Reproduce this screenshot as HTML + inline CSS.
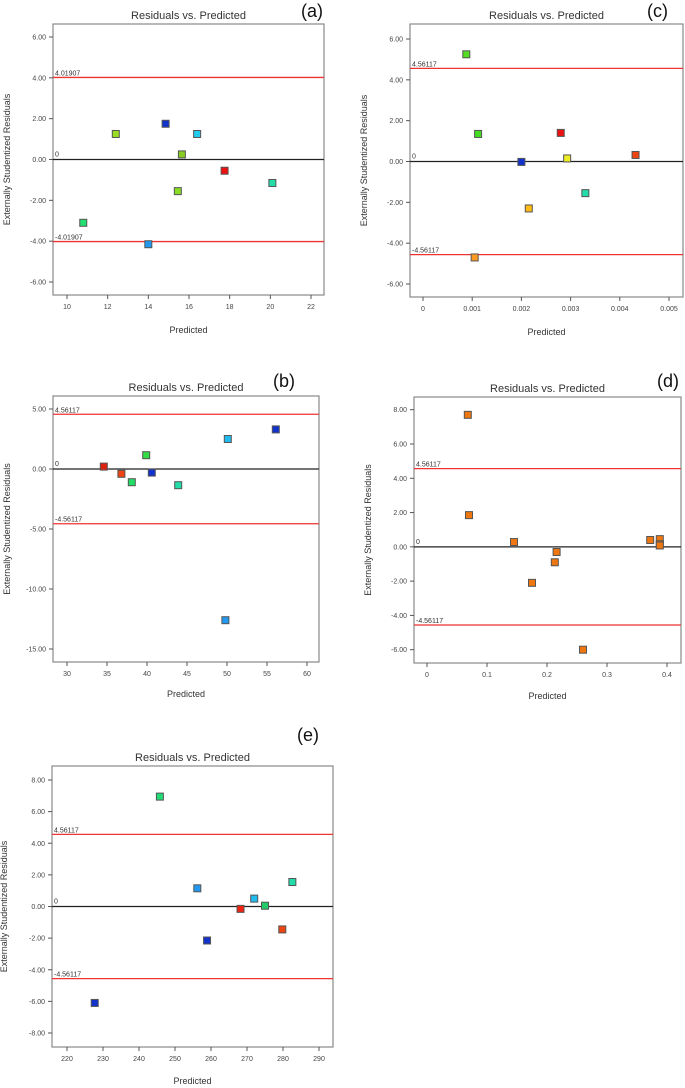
<!DOCTYPE html>
<html><head><meta charset="utf-8"><style>
body{margin:0;background:#fff;width:685px;height:1088px;overflow:hidden;font-family:"Liberation Sans",sans-serif}
svg{position:absolute;left:0;top:0}
</style></head><body>
<svg id="s" width="685" height="1088"></svg>
<script>
// Panel (a)
const aX=[10.8,12.4,14.0,14.85,15.45,15.65,16.4,17.75,20.1];
const aY=[-3.1,1.25,-4.15,1.75,-1.55,0.25,1.25,-0.55,-1.15];
const aC=["#22e070","#99dd22","#2299ee","#1133cc","#88dd22","#88cc22","#22ccee","#ee1111","#22ddaa"];
const aXT=[10,12,14,16,18,20,22];
const aYT=[6,4,2,0,-2,-4,-6];
// Panel (c)
const cX=[0.00088,0.00112,0.00105,0.002,0.00215,0.0028,0.00293,0.0033,0.00432];
const cY=[5.25,1.35,-4.7,-0.02,-2.3,1.4,0.15,-1.55,0.32];
const cC=["#55dd22","#44dd22","#ff9922","#1133cc","#ffbb11","#ee1111","#eeee22","#22ddaa","#ee4411"];
const cXT=[0,0.001,0.002,0.003,0.004,0.005];
const cYT=[6,4,2,0,-2,-4,-6];
// Panel (b)
const bX=[34.6,36.8,38.1,39.9,40.6,43.9,50.1,49.8,56.1];
const bY=[0.2,-0.4,-1.1,1.15,-0.3,-1.35,2.5,-12.6,3.3];
const bC=["#dd2211","#ee4411","#22dd66","#33dd44","#1133cc","#22ddaa","#22bbee","#2299ee","#1133cc"];
const bXT=[30,35,40,45,50,55,60];
const bYT=[5,0,-5,-10,-15];
// Panel (d)
const dX=[0.068,0.07,0.145,0.175,0.213,0.216,0.26,0.372,0.388,0.388,0.388];
const dY=[7.7,1.85,0.28,-2.1,-0.9,-0.3,-6.0,0.4,0.45,0.15,0.08];
const dXT=[0,0.1,0.2,0.3,0.4];
const dYT=[8,6,4,2,0,-2,-4,-6];
// Panel (e)
const eX=[227.7,245.8,256.2,258.9,268.2,272.0,275.0,279.8,282.6];
const eY=[-6.1,6.95,1.15,-2.15,-0.15,0.5,0.05,-1.45,1.55];
const eC=["#1133cc","#22dd77","#2299ee","#1133cc","#ee2211","#22bbee","#22cc66","#ee4411","#22ddaa"];
const eXT=[220,230,240,250,260,270,280,290];
const eYT=[8,6,4,2,0,-2,-4,-6,-8];

const S=document.getElementById('s');const NS="http://www.w3.org/2000/svg";
function el(t,a,p){const e=document.createElementNS(NS,t);for(const k in a)e.setAttribute(k,a[k]);(p||S).appendChild(e);return e;}
function panel(o){
 const g=el('g',{});
 
 
 const sx=v=>o.x0px+(v-o.x0)*(o.x1px-o.x0px)/(o.x1-o.x0);
 const sy=v=>o.y0px+(v-o.y0)*(o.y1px-o.y0px)/(o.y1-o.y0);
 const t=el('text',{x:(o.L+o.R)/2,y:o.T-5,'text-anchor':'middle','font-size':11,fill:'#333'},g);t.textContent='Residuals vs. Predicted';
 
 const lb=el('text',{x:o.lx,y:o.ly,'font-size':18,fill:'#111'},g);lb.textContent='('+o.id+')';
 
 const box=el('rect',{x:o.L,y:o.T,width:o.R-o.L,height:o.B-o.T,fill:'#fff',stroke:'#888','stroke-width':1.2},g);
 
 o.yt.forEach(v=>{const y=sy(v);el('line',{x1:o.L-4,x2:o.L,y1:y,y2:y,stroke:'#555'},g);
  const tx=el('text',{x:o.L-7,y:y+2.5,'text-anchor':'end','font-size':7,fill:'#444'},g);tx.textContent=v.toFixed(2);
  });
 o.xt.forEach(v=>{const x=sx(v);el('line',{x1:x,x2:x,y1:o.B,y2:o.B+4,stroke:'#555'},g);
  const tx=el('text',{x:x,y:o.B+14,'text-anchor':'middle','font-size':7,fill:'#444'},g);tx.textContent=String(v);
  });
 const xl=el('text',{x:(o.L+o.R)/2,y:o.xly,'text-anchor':'middle','font-size':9,fill:'#333'},g);xl.textContent='Predicted';
 
 const yc=(o.T+o.B)/2;const yl=el('text',{x:o.ylx,y:yc,'text-anchor':'middle','font-size':9,fill:'#333',transform:`rotate(-90 ${o.ylx} ${yc})`},g);yl.textContent='Externally Studentized Residuals';
 
 [o.lim,-o.lim].forEach((v,i)=>{const y=sy(v);const ln=el('line',{x1:o.L,x2:o.R,y1:y,y2:y,stroke:'#ee3333','stroke-width':1.3},g);
  
  const tx=el('text',{x:o.L+2,y:y-2,'font-size':7,fill:'#333'},g);tx.textContent=(i?'-':'')+o.limTxt;
  });
 const y0=sy(0);const zl=el('line',{x1:o.L,x2:o.R,y1:y0,y2:y0,stroke:'#222','stroke-width':1.2},g);
 
 const zt=el('text',{x:o.L+2,y:y0-3,'font-size':7,fill:'#333'},g);zt.textContent='0';
 o.px.forEach((v,i)=>{const x=sx(v),y=sy(o.py[i]);const r=el('rect',{x:x-3.5,y:y-3.5,width:7,height:7,fill:o.pc[i],stroke:'#555','stroke-width':1},g);
  });
}
panel({id:'a',L:53,R:324,T:24,B:295,x0:10,x1:22,x0px:67,x1px:311,y0:6,y1:-6,y0px:37,y1px:282,xt:aXT,yt:aYT,px:aX,py:aY,pc:aC,lim:4.01907,limTxt:'4.01907',lx:301,ly:17,xly:333,ylx:10});
panel({id:'c',L:410,R:683,T:24,B:297,x0:0,x1:0.005,x0px:423,x1px:669,y0:6,y1:-6,y0px:39,y1px:284,xt:cXT,yt:cYT,px:cX,py:cY,pc:cC,lim:4.56117,limTxt:'4.56117',lx:647,ly:17,xly:335,ylx:367});
panel({id:'b',L:53,R:319,T:396,B:662,x0:30,x1:60,x0px:67,x1px:307,y0:5,y1:-15,y0px:409,y1px:649,xt:bXT,yt:bYT,px:bX,py:bY,pc:bC,lim:4.56117,limTxt:'4.56117',lx:273,ly:387,xly:697,ylx:10});
panel({id:'d',L:414,R:681,T:397,B:663,x0:0,x1:0.4,x0px:427,x1px:667,y0:8,y1:-6,y0px:409.7,y1px:649.7,xt:dXT,yt:dYT,px:dX,py:dY,pc:dX.map(()=>"#ee7711"),lim:4.56117,limTxt:'4.56117',lx:657,ly:387,xly:699,ylx:371});
panel({id:'e',L:52,R:333,T:766,B:1047,x0:220,x1:290,x0px:67,x1px:319,y0:8,y1:-8,y0px:780,y1px:1033,xt:eXT,yt:eYT,px:eX,py:eY,pc:eC,lim:4.56117,limTxt:'4.56117',lx:297,ly:741,xly:1084,ylx:7});
</script>
</body></html>
